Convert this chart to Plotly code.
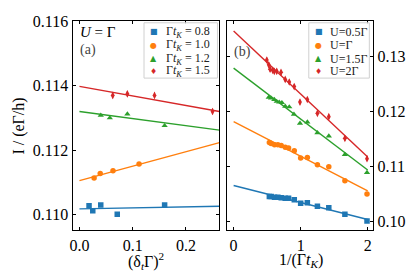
import plotly.graph_objects as go

# ---------------- data: panel (a) ----------------
a_labels = ["0.8", "1.0", "1.2", "1.5"]
a_blue_x = [0.018, 0.025, 0.040, 0.071, 0.160]
a_blue_y = [0.11027, 0.11011, 0.11029, 0.11000, 0.11029]
a_orange_x = [0.0275, 0.039, 0.063, 0.112]
a_orange_y = [0.11113, 0.11127, 0.11136, 0.11157]
a_green_x = [0.040, 0.057, 0.090, 0.160]
a_green_y = [0.11308, 0.11300, 0.11312, 0.11276]
a_red_x = [0.0625, 0.090, 0.141, 0.250]
a_red_y = [0.11370, 0.11375, 0.11370, 0.11320]
a_red_err = [0.00009, 0.00009, 0.00009, 0.00009]
# fit lines (values at x=0 and x=0.263)
a_fit_x = [0.0, 0.263]
a_fit_blue = [0.11017, 0.11025]
a_fit_orange = [0.11105, 0.11223]
a_fit_green = [0.11320, 0.11262]
a_fit_red = [0.11398, 0.11320]

# ---------------- data: panel (b) ----------------
b_labels = ["U=0.5Γ", "U=Γ", "U=1.5Γ", "U=2Γ"]
b_blue_x = [0.533, 0.56, 0.61, 0.66, 0.71, 0.77, 0.82, 0.905, 1.0, 1.1, 1.25, 1.42, 1.66, 1.99]
b_blue_y = [0.10446, 0.10446, 0.10434, 0.10434, 0.10423, 0.10416, 0.10416, 0.10388,
            0.10323, 0.10335, 0.10270, 0.10240, 0.10123, 0.10000]
b_orange_x = [0.533, 0.56, 0.61, 0.66, 0.71, 0.77, 0.82, 0.905, 1.0, 1.1, 1.25, 1.42, 1.66, 1.99]
b_orange_y = [0.11429, 0.11411, 0.11386, 0.11386, 0.11376, 0.11340, 0.11328, 0.11280,
              0.11146, 0.11157, 0.11023, 0.10988, 0.10734, 0.10494]
b_green_x = [0.524, 0.558, 0.607, 0.643, 0.68, 0.72, 0.77, 0.83, 0.90, 0.99, 1.10, 1.25, 1.42, 1.66, 1.99]
b_green_y = [0.12250, 0.12233, 0.12210, 0.12175, 0.12162, 0.12152, 0.12086, 0.12074,
             0.11940, 0.11778, 0.11800, 0.11605, 0.11545, 0.11210, 0.10882]
b_red_x = [0.495, 0.524, 0.544, 0.584, 0.607, 0.643, 0.707, 0.77, 0.83, 0.904, 0.99, 1.10, 1.25, 1.42, 1.66, 1.99]
b_red_y = [0.12928, 0.12840, 0.12762, 0.12739, 0.12722, 0.12722, 0.12704, 0.12575,
           0.12528, 0.12445, 0.12163, 0.12210, 0.11958, 0.11898, 0.11504, 0.11134]
b_red_err = [0.00045] * len(b_red_x)
b_fit_x = [0.0, 2.0]
b_fit_blue = [0.10646, 0.10028]
b_fit_orange = [0.11810, 0.10547]
b_fit_green = [0.12780, 0.10928]
b_fit_red = [0.13457, 0.11164]

colors = ["#1f77b4", "#ff7f0e", "#2ca02c", "#d62728"]
symbols = ["square", "circle", "triangle-up", "diamond-tall"]
glyphs = ["■", "●", "▲", "♦"]
FONT = "Liberation Serif"
# page body has an 8px margin; the figure is sized so it fits the 415x277 window
OFF = 8
W, H = 415 - OFF, 277 - OFF

fig = go.Figure()

def add_panel(xs, ys, errs, fits_x, fits, labels, xa, ya):
    for i in range(4):
        fig.add_trace(go.Scatter(
            x=fits_x, y=fits[i], mode="lines",
            line=dict(color=colors[i], width=1.4),
            showlegend=False, xaxis=xa, yaxis=ya, hoverinfo="skip"))
    for i in range(4):
        ey = None
        if errs[i] is not None:
            ey = dict(type="data", array=errs[i], visible=True,
                      color=colors[i], thickness=1, width=0)
        fig.add_trace(go.Scatter(
            x=xs[i], y=ys[i], mode="markers", name=labels[i],
            marker=dict(color=colors[i], symbol=symbols[i], size=5.5,
                        line=dict(width=0)),
            error_y=ey, xaxis=xa, yaxis=ya, showlegend=False))

a_names = ["Γ<i>t</i><sub><i>K</i></sub> = " + s for s in a_labels]
add_panel([a_blue_x, a_orange_x, a_green_x, a_red_x],
          [a_blue_y, a_orange_y, a_green_y, a_red_y],
          [None, None, None, a_red_err],
          a_fit_x, [a_fit_blue, a_fit_orange, a_fit_green, a_fit_red],
          a_names, "x", "y")
add_panel([b_blue_x, b_orange_x, b_green_x, b_red_x],
          [b_blue_y, b_orange_y, b_green_y, b_red_y],
          [None, None, None, b_red_err],
          b_fit_x, [b_fit_blue, b_fit_orange, b_fit_green, b_fit_red],
          b_labels, "x2", "y2")

axis_common = dict(showline=True, linecolor="black", linewidth=1.2, mirror="allticks",
                   ticks="inside", ticklen=3, tickcolor="black", showgrid=False,
                   zeroline=False, ticklabeloverflow="allow",
                   tickfont=dict(family=FONT, size=16, color="black"))

def px(x):
    return (x - OFF) / W

def py(y):
    return 1 - (y - OFF) / H

annotations = []
shapes = []

def manual_legend(box, mx, tx, rows, names):
    x0, x1, y0, y1 = box
    shapes.append(dict(type="rect", xref="paper", yref="paper",
                       x0=px(x0), x1=px(x1), y0=py(y1), y1=py(y0),
                       line=dict(color="#d0d0d0", width=1),
                       fillcolor="rgba(255,255,255,0.85)", layer="above"))
    for i, (yy, nm) in enumerate(zip(rows, names)):
        annotations.append(dict(text=glyphs[i], x=px(mx), y=py(yy), xref="paper", yref="paper",
                                xanchor="center", yanchor="middle", showarrow=False,
                                font=dict(family="DejaVu Sans", size=8, color=colors[i])))
        annotations.append(dict(text=nm, x=px(tx), y=py(yy), xref="paper", yref="paper",
                                xanchor="left", yanchor="middle", showarrow=False,
                                font=dict(family=FONT, size=12, color="#222222")))

manual_legend((142, 216, 15, 72), 152, 162, [24, 38, 52, 65], a_names)
manual_legend((308, 369, 15, 72), 318, 327, [24, 38, 52, 65], b_labels)

annotations += [
    dict(text="<i>U</i> = Γ", x=px(76), y=py(25), xref="paper", yref="paper",
         xanchor="left", yanchor="middle", showarrow=False,
         font=dict(family=FONT, size=15, color="black")),
    dict(text="(a)", x=px(76), y=py(43), xref="paper", yref="paper",
         xanchor="left", yanchor="middle", showarrow=False,
         font=dict(family=FONT, size=14, color="#444444")),
    dict(text="(b)", x=px(231), y=py(45), xref="paper", yref="paper",
         xanchor="left", yanchor="middle", showarrow=False,
         font=dict(family=FONT, size=14, color="#444444")),
    dict(text="(δ<sub><i>t</i></sub>Γ)<sup>2</sup>", x=px(144), y=py(260), xref="paper", yref="paper",
         xanchor="center", yanchor="middle", showarrow=False,
         font=dict(family=FONT, size=16, color="black")),
    dict(text="1/(Γ<i>t</i><sub><i>K</i></sub>)", x=px(300), y=py(260), xref="paper", yref="paper",
         xanchor="center", yanchor="middle", showarrow=False,
         font=dict(family=FONT, size=16, color="black")),
    dict(text="I / (eΓ/h)", x=px(16), y=py(121), xref="paper", yref="paper",
         xanchor="center", yanchor="middle", showarrow=False, textangle=-90,
         font=dict(family=FONT, size=16, color="black")),
]

fig.update_layout(
    width=W, height=H,
    margin=dict(l=0, r=0, t=0, b=0),
    plot_bgcolor="white", paper_bgcolor="white",
    font=dict(family=FONT, color="black"),
    showlegend=False,
    xaxis=dict(domain=[px(70), px(218)], range=[-0.013, 0.263],
               tickvals=[0.0, 0.1, 0.2], ticktext=["0.0", "0.1", "0.2"],
               anchor="y", **axis_common),
    yaxis=dict(domain=[py(229), py(13)], range=[0.1095, 0.11602],
               tickvals=[0.110, 0.112, 0.114, 0.116],
               ticktext=["0.110", "0.112", "0.114", "0.116"],
               anchor="x", **axis_common),
    xaxis2=dict(domain=[px(226), px(373)], range=[-0.093, 2.084],
                tickvals=[0, 1, 2], ticktext=["0", "1", "2"],
                anchor="y2", **axis_common),
    yaxis2=dict(domain=[py(229), py(13)], range=[0.0983, 0.1364],
                tickvals=[0.10, 0.11, 0.12, 0.13],
                ticktext=["0.10", "0.11", "0.12", "0.13"],
                side="right", anchor="x2", **axis_common),
    annotations=annotations,
    shapes=shapes,
)

fig.write_html("out.html")
